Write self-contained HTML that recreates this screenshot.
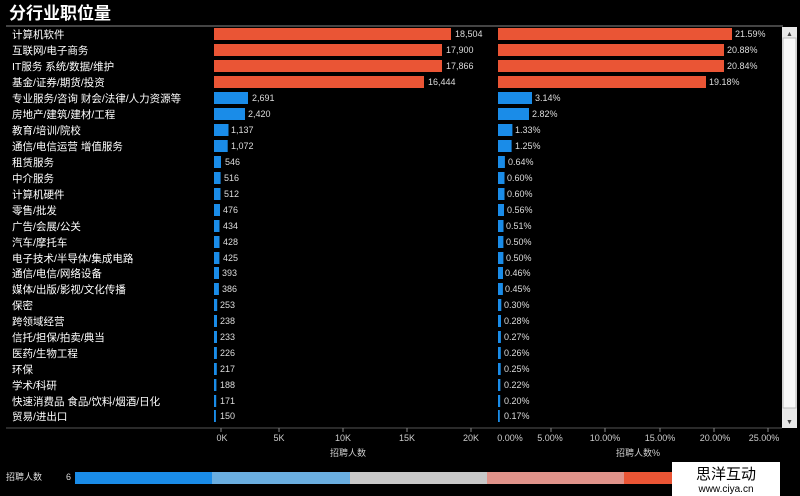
<!DOCTYPE html>
<html><head><meta charset="utf-8"><style>
body{margin:0;background:#000;width:800px;height:496px;overflow:hidden}
svg{display:block}
text{font-family:"Liberation Sans","Noto Sans CJK SC",sans-serif}
</style></head><body>
<svg width="800" height="496" xmlns="http://www.w3.org/2000/svg">
<rect width="800" height="496" fill="#000"/>
<text x="9" y="19" fill="#fff" font-size="17" font-weight="bold">分行业职位量</text>
<line x1="6" y1="26" x2="783" y2="26" stroke="#888" stroke-width="1"/>
<g fill="#fff" font-size="10.5">
<text x="12" y="38">计算机软件</text>
<text x="12" y="54">互联网/电子商务</text>
<text x="12" y="70">IT服务 系统/数据/维护</text>
<text x="12" y="86">基金/证券/期货/投资</text>
<text x="12" y="102">专业服务/咨询 财会/法律/人力资源等</text>
<text x="12" y="118">房地产/建筑/建材/工程</text>
<text x="12" y="134">教育/培训/院校</text>
<text x="12" y="150">通信/电信运营 增值服务</text>
<text x="12" y="166">租赁服务</text>
<text x="12" y="182">中介服务</text>
<text x="12" y="198">计算机硬件</text>
<text x="12" y="214">零售/批发</text>
<text x="12" y="230">广告/会展/公关</text>
<text x="12" y="246">汽车/摩托车</text>
<text x="12" y="262">电子技术/半导体/集成电路</text>
<text x="12" y="277">通信/电信/网络设备</text>
<text x="12" y="293">媒体/出版/影视/文化传播</text>
<text x="12" y="309">保密</text>
<text x="12" y="325">跨领域经营</text>
<text x="12" y="341">信托/担保/拍卖/典当</text>
<text x="12" y="357">医药/生物工程</text>
<text x="12" y="373">环保</text>
<text x="12" y="389">学术/科研</text>
<text x="12" y="405">快速消费品 食品/饮料/烟酒/日化</text>
<text x="12" y="420">贸易/进出口</text>
</g>
<g fill="#ea5535">
<rect x="214" y="28" width="237" height="12"/><rect x="498" y="28" width="234" height="12"/>
<rect x="214" y="44" width="228" height="12"/><rect x="498" y="44" width="226" height="12"/>
<rect x="214" y="60" width="228" height="12"/><rect x="498" y="60" width="226" height="12"/>
<rect x="214" y="76" width="210" height="12"/><rect x="498" y="76" width="208" height="12"/>
</g>
<g fill="#1a8ce8">
<rect x="214" y="92" width="34" height="12"/><rect x="498" y="92" width="34" height="12"/>
<rect x="214" y="108" width="31" height="12"/><rect x="498" y="108" width="31" height="12"/>
<rect x="214" y="124" width="14.5" height="12"/><rect x="498" y="124" width="14.4" height="12"/>
<rect x="214" y="140" width="13.7" height="12"/><rect x="498" y="140" width="13.6" height="12"/>
<rect x="214" y="156" width="7" height="12"/><rect x="498" y="156" width="6.9" height="12"/>
<rect x="214" y="172" width="6.6" height="12"/><rect x="498" y="172" width="6.5" height="12"/>
<rect x="214" y="188" width="6.5" height="12"/><rect x="498" y="188" width="6.5" height="12"/>
<rect x="214" y="204" width="6" height="12"/><rect x="498" y="204" width="6" height="12"/>
<rect x="214" y="220" width="5.5" height="12"/><rect x="498" y="220" width="5.5" height="12"/>
<rect x="214" y="236" width="5.5" height="12"/><rect x="498" y="236" width="5.4" height="12"/>
<rect x="214" y="252" width="5.4" height="12"/><rect x="498" y="252" width="5.4" height="12"/>
<rect x="214" y="267" width="5" height="12"/><rect x="498" y="267" width="5" height="12"/>
<rect x="214" y="283" width="4.9" height="12"/><rect x="498" y="283" width="4.9" height="12"/>
<rect x="214" y="299" width="3.2" height="12"/><rect x="498" y="299" width="3.3" height="12"/>
<rect x="214" y="315" width="3" height="12"/><rect x="498" y="315" width="3" height="12"/>
<rect x="214" y="331" width="3" height="12"/><rect x="498" y="331" width="2.9" height="12"/>
<rect x="214" y="347" width="2.9" height="12"/><rect x="498" y="347" width="2.8" height="12"/>
<rect x="214" y="363" width="2.8" height="12"/><rect x="498" y="363" width="2.7" height="12"/>
<rect x="214" y="379" width="2.4" height="12"/><rect x="498" y="379" width="2.4" height="12"/>
<rect x="214" y="395" width="2.2" height="12"/><rect x="498" y="395" width="2.2" height="12"/>
<rect x="214" y="410" width="1.9" height="12"/><rect x="498" y="410" width="1.8" height="12"/>
</g>
<g fill="#ddd" font-size="9">
<text x="455" y="37">18,504</text><text x="735" y="37">21.59%</text>
<text x="446" y="53">17,900</text><text x="727" y="53">20.88%</text>
<text x="446" y="69">17,866</text><text x="727" y="69">20.84%</text>
<text x="428" y="85">16,444</text><text x="709" y="85">19.18%</text>
<text x="252" y="101">2,691</text><text x="535" y="101">3.14%</text>
<text x="248" y="117">2,420</text><text x="532" y="117">2.82%</text>
<text x="231" y="133">1,137</text><text x="515" y="133">1.33%</text>
<text x="231" y="149">1,072</text><text x="515" y="149">1.25%</text>
<text x="225" y="165">546</text><text x="508" y="165">0.64%</text>
<text x="224" y="181">516</text><text x="507" y="181">0.60%</text>
<text x="224" y="197">512</text><text x="507" y="197">0.60%</text>
<text x="223" y="213">476</text><text x="507" y="213">0.56%</text>
<text x="223" y="229">434</text><text x="506" y="229">0.51%</text>
<text x="223" y="245">428</text><text x="506" y="245">0.50%</text>
<text x="223" y="261">425</text><text x="506" y="261">0.50%</text>
<text x="222" y="276">393</text><text x="505" y="276">0.46%</text>
<text x="222" y="292">386</text><text x="505" y="292">0.45%</text>
<text x="220" y="308">253</text><text x="504" y="308">0.30%</text>
<text x="220" y="324">238</text><text x="504" y="324">0.28%</text>
<text x="220" y="340">233</text><text x="504" y="340">0.27%</text>
<text x="220" y="356">226</text><text x="504" y="356">0.26%</text>
<text x="220" y="372">217</text><text x="504" y="372">0.25%</text>
<text x="220" y="388">188</text><text x="504" y="388">0.22%</text>
<text x="220" y="404">171</text><text x="504" y="404">0.20%</text>
<text x="220" y="419">150</text><text x="504" y="419">0.17%</text>
</g>
<rect x="782" y="27" width="15" height="401" fill="#e8e8e8"/>
<rect x="783" y="38" width="13" height="370" fill="#f8f8f8" stroke="#bbb"/>
<text x="786" y="36" font-size="7" fill="#444">▲</text>
<text x="786" y="424" font-size="7" fill="#444">▼</text>
<line x1="6" y1="428" x2="782" y2="428" stroke="#555"/>
<g stroke="#888"><line x1="221" y1="428" x2="221" y2="432"/><line x1="279" y1="428" x2="279" y2="432"/><line x1="343" y1="428" x2="343" y2="432"/><line x1="407" y1="428" x2="407" y2="432"/><line x1="471" y1="428" x2="471" y2="432"/><line x1="551" y1="428" x2="551" y2="432"/><line x1="605" y1="428" x2="605" y2="432"/><line x1="660" y1="428" x2="660" y2="432"/><line x1="714" y1="428" x2="714" y2="432"/><line x1="768" y1="428" x2="768" y2="432"/></g>
<g fill="#ccc" font-size="9" font-family="Liberation Serif" text-anchor="middle">
<text x="222" y="441" font-family="Liberation Serif">0K</text><text x="279" y="441" font-family="Liberation Serif">5K</text><text x="343" y="441" font-family="Liberation Serif">10K</text><text x="407" y="441" font-family="Liberation Serif">15K</text><text x="471" y="441" font-family="Liberation Serif">20K</text>
<text x="510" y="441" font-family="Liberation Serif">0.00%</text><text x="550" y="441" font-family="Liberation Serif">5.00%</text><text x="605" y="441" font-family="Liberation Serif">10.00%</text><text x="660" y="441" font-family="Liberation Serif">15.00%</text><text x="715" y="441" font-family="Liberation Serif">20.00%</text><text x="764" y="441" font-family="Liberation Serif">25.00%</text>
<text x="348" y="456">招聘人数</text><text x="638" y="456">招聘人数%</text>
</g>
<text x="6" y="480" fill="#ddd" font-size="9">招聘人数</text>
<text x="66" y="480" fill="#ddd" font-size="9">6</text>
<rect x="75" y="472" width="137" height="12" fill="#1a8ce8"/>
<rect x="212" y="472" width="138" height="12" fill="#6aaee0"/>
<rect x="350" y="472" width="137" height="12" fill="#c8c8c8"/>
<rect x="487" y="472" width="137" height="12" fill="#e0938a"/>
<rect x="624" y="472" width="50" height="12" fill="#ea5535"/>
<rect x="672" y="462" width="108" height="34" fill="#fff"/>
<text x="726" y="479" font-size="15" text-anchor="middle" fill="#000">思洋互动</text>
<text x="726" y="492" font-size="10" text-anchor="middle" fill="#000">www.ciya.cn</text>
</svg>
</body></html>
